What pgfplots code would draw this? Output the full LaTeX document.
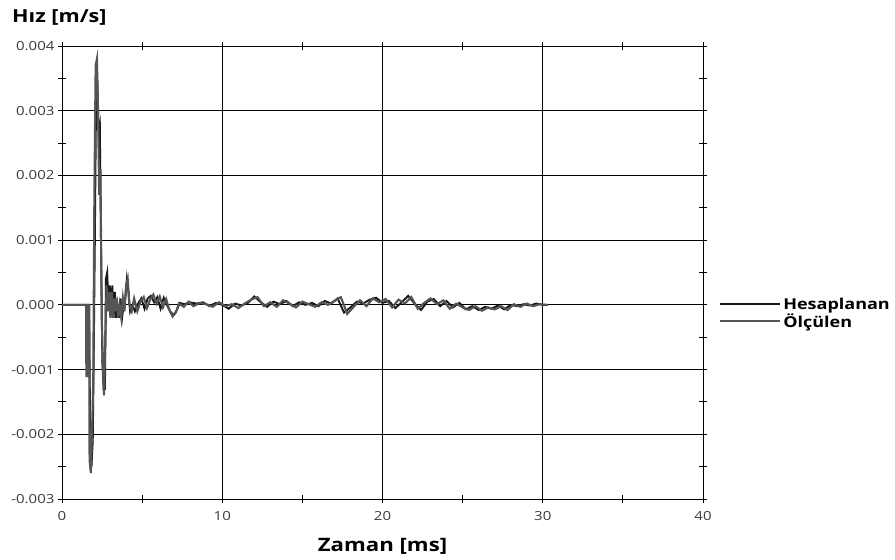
\documentclass[border=0pt]{standalone}
\usepackage{fontspec}
\setmainfont[FakeStretch=1.2]{Open Sans}
\usepackage{pgfplots}
\pgfplotsset{compat=1.18}
\definecolor{calc}{RGB}{25,25,25}
\definecolor{meas}{RGB}{85,85,85}
\definecolor{ticktext}{RGB}{60,60,60}

\begin{document}
\begin{tikzpicture}
\begin{axis}[
    scale only axis,
    width=641pt, height=453pt,
    xmin=0, xmax=40,
    ymin=-0.003, ymax=0.004,
    xtick={0,10,20,30,40},
    ytick={-0.003,-0.002,-0.001,0,0.001,0.002,0.003,0.004},
    minor x tick num=1, minor y tick num=1,
    grid=major,
    major grid style={black, line width=0.9pt},
    axis line style={black, line width=0.9pt},
    tick style={black, line width=0.9pt},
    tick align=center,
    major tick length=8pt, minor tick length=8pt,
    scaled y ticks=false,
    /pgf/number format/assume math mode=true,
    yticklabel style={/pgf/number format/fixed,
        /pgf/number format/fixed zerofill,
        /pgf/number format/precision=3},
    xticklabel style={yshift=-5pt},
    ticklabel style={font=\fontsize{12.5}{14}\selectfont, text=ticktext},
    xlabel={\bfseries Zaman [ms]},
    xlabel style={at={(axis description cs:0.5,-0.104)}, anchor=center,
        font=\fontsize{18.5}{20}\selectfont},
    ylabel={\bfseries Hız [m/s]},
    ylabel style={rotate=-90, at={(axis description cs:-0.078,1.062)},
        anchor=west, inner sep=0pt, font=\fontsize{18}{20}\selectfont},
    legend style={draw=none, fill=none, at={(axis description cs:1,0.41)},
        anchor=west, xshift=16pt, inner sep=0pt, row sep=-1pt,
        font=\bfseries\fontsize{15}{18}\selectfont},
    legend cell align=left,
    legend image code/.code={\draw[#1] (0pt,0pt) -- (60pt,0pt);},
]
% Hesaplanan (computed)
\addplot[calc, line width=1.9pt] coordinates {
(0,0) (1.66,0) (1.70,-0.0003) (1.76,-0.0020) (1.84,-0.0025) (1.92,-0.0021)
(1.98,-0.0008) (2.05,0.0010) (2.12,0.0030) (2.20,0.0035) (2.28,0.0027)
(2.36,0.0028) (2.44,0.0008) (2.52,-0.0009) (2.60,-0.0013) (2.68,-0.0013)
(2.74,0.0004) (2.82,0.0005) (2.90,0.0000) (2.98,0.0003) (3.06,-0.0001)
(3.14,0.0003) (3.22,-0.0002) (3.30,0.0002) (3.38,-0.0002) (3.46,0.0000)
(3.55,-0.0002) (3.65,0.0001) (3.75,-0.0002) (3.85,0.0000) (3.95,0.0001)
(4.05,0.0004) (4.15,0.0002) (4.25,-0.0001) (4.40,0.0000) (4.55,-0.0001)
(4.75,0.00002) (4.95,0.0001) (5.15,-0.00006) (5.35,0.0001) (5.55,0.00014)
(5.75,0.00004) (5.95,0.00012) (6.15,-0.00006) (6.35,0.00011) (6.55,0.00000)
(6.75,-0.0001) (6.95,-0.00016) (7.15,-0.00009) (7.35,0.00003) (7.65,0.00001)
(7.95,0.00004) (8.4,0.00002) (8.8,0.00004) (9.2,-0.00002) (9.6,0.00003)
(10.0,0.00000) (10.4,-0.00006) (10.8,0.00002) (11.2,-0.00001) (11.6,0.00003)
(12.0,0.00013) (12.4,0.00004) (12.8,-0.00003) (13.2,0.00005) (13.6,0.00001)
(14.0,0.00006) (14.4,-0.00002) (14.8,0.00004) (15.2,0.00000) (15.6,0.00003)
(16.0,-0.00002) (16.4,0.00006) (16.8,0.00002) (17.2,0.00010) (17.6,-0.00012)
(18.0,-0.00004) (18.4,0.00005) (18.8,0.00002) (19.2,0.00008) (19.6,0.00011)
(20.0,0.00003) (20.4,0.00006) (20.8,-0.00005) (21.2,0.00004) (21.6,0.00014)
(22.0,0.00002) (22.4,-0.00008) (22.8,0.00005) (23.2,0.00009) (23.6,-0.00002)
(24.0,0.00006) (24.4,-0.00004) (24.8,0.00003) (25.2,-0.00007) (25.6,-0.00002)
(26.0,-0.00008) (26.4,-0.00003) (26.8,-0.00006) (27.2,-0.00001) (27.6,-0.00007)
(28.0,0.00000) (28.4,-0.00002) (28.8,0.00001) (29.2,-0.00001) (29.6,0.00002)
(30.0,0.00000) (30.3,0.00000)
};
\addlegendentry{Hesaplanan}
% Olculen (measured)
\addplot[meas, line width=2.1pt] coordinates {
(0,0) (1.50,0) (1.52,-0.0011) (1.60,-0.0011) (1.62,0) (1.70,0)
(1.72,-0.0024) (1.80,-0.0026) (1.88,-0.0019) (1.95,-0.0012) (2.02,0.0017)
(2.10,0.0037) (2.18,0.0038) (2.25,0.0030) (2.32,0.0017) (2.40,0.0021)
(2.48,-0.0002) (2.56,-0.0010) (2.62,-0.0014) (2.70,-0.0006) (2.78,0.0003)
(2.86,-0.0001) (2.94,0.0002) (3.02,-0.0002) (3.10,0.0002) (3.18,-0.0002)
(3.26,0.0001) (3.34,-0.0001) (3.42,0.0001) (3.50,-0.0002) (3.60,0.0000)
(3.70,-0.0002) (3.80,0.0001) (3.90,-0.0001) (4.00,0.0003) (4.10,0.0004)
(4.20,0.0000) (4.35,-0.0001) (4.50,0.0001) (4.70,-0.0001) (4.90,0.00005)
(5.10,0.00012) (5.30,-0.00005) (5.50,0.00008) (5.70,0.00016) (5.90,0.00002)
(6.10,0.00013) (6.30,-0.00004) (6.50,0.00009) (6.70,-0.00008) (6.90,-0.00018)
(7.10,-0.00012) (7.30,0.00002) (7.60,-0.00003) (7.90,0.00005) (8.2,-0.00002)
(8.6,0.00003) (9.0,0.00001) (9.4,-0.00003) (9.8,0.00004) (10.2,-0.00002)
(10.6,0.00001) (11.0,-0.00005) (11.4,0.00002) (11.8,0.00008) (12.2,0.00012)
(12.6,-0.00002) (13.0,0.00004) (13.4,-0.00003) (13.8,0.00007) (14.2,0.00002)
(14.6,-0.00004) (15.0,0.00005) (15.4,0.00001) (15.8,-0.00003) (16.2,0.00004)
(16.6,0.00000) (17.0,0.00006) (17.4,0.00012) (17.8,-0.00014) (18.2,-0.00003)
(18.6,0.00007) (19.0,-0.00002) (19.4,0.00010) (19.8,0.00004) (20.2,0.00009)
(20.6,-0.00004) (21.0,0.00008) (21.4,0.00002) (21.8,0.00012) (22.2,-0.00006)
(22.6,0.00003) (23.0,0.00010) (23.4,0.00001) (23.8,0.00007) (24.2,-0.00006)
(24.6,0.00002) (25.0,-0.00004) (25.4,-0.00008) (25.8,-0.00002) (26.2,-0.00009)
(26.6,-0.00004) (27.0,-0.00007) (27.4,-0.00002) (27.8,-0.00008) (28.2,0.00001)
(28.6,-0.00003) (29.0,0.00002) (29.4,-0.00002) (29.8,0.00001) (30.2,0.00000)
(30.35,0.00000)
};
\addlegendentry{Ölçülen}
\end{axis}
\path (-62pt,-61pt) rectangle (833pt,499pt);
\end{tikzpicture}
\end{document}
